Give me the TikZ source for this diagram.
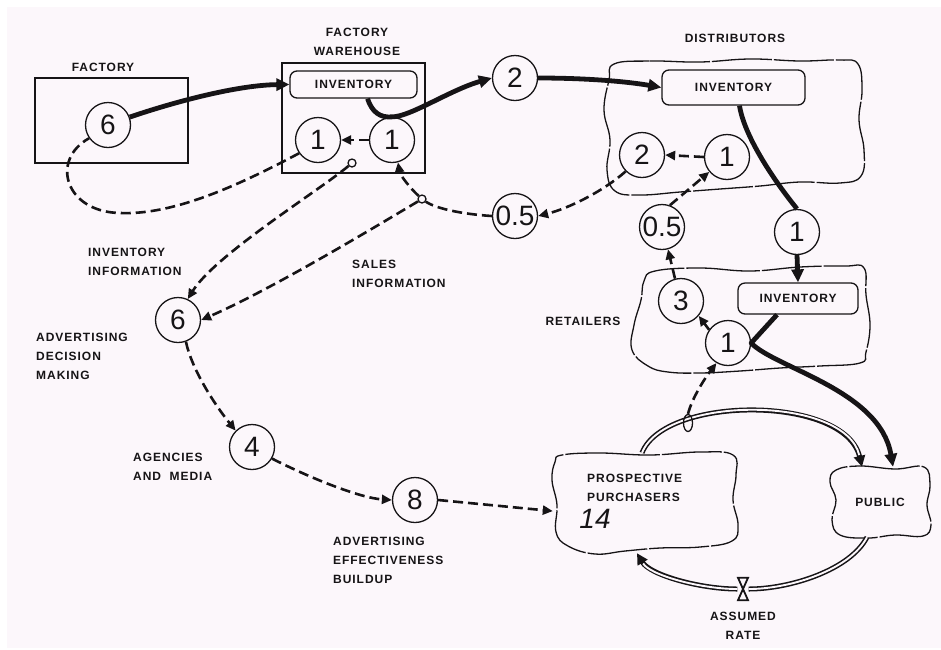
\documentclass[tikz,border=0pt]{standalone}
\usepackage{fontspec}
\setmainfont{Liberation Sans}
\newfontfamily\labfont[LetterSpace=8]{Liberation Sans}
\newfontfamily\digfont{Liberation Sans}
\usetikzlibrary{arrows.meta,shapes.geometric}
\definecolor{bg}{RGB}{252,247,251}
\definecolor{ink}{RGB}{22,20,22}
\tikzset{
  lab/.style={font=\labfont\bfseries\fontsize{12}{19}\selectfont, text=ink, inner sep=0pt, align=left},
  numc/.style={circle, draw=ink, line width=1.3pt, minimum size=45pt, inner sep=0pt, fill=bg, font=\digfont\fontsize{28}{28}\selectfont, text=ink},
  invbox/.style={draw=ink, line width=1.3pt, rounded corners=7pt, inner sep=0pt, font=\labfont\bfseries\fontsize{12}{14}\selectfont, text=ink},
  housebox/.style={draw=ink, line width=1.2pt, inner sep=0pt},
  area/.style={draw=none, inner sep=0pt},
  cloudline/.style={draw=ink, line width=1.3pt, dash pattern=on 60pt off 2pt},
  flowln/.style={draw=ink, line width=4.8pt},
  flowarrow/.style={flowln, -{Triangle[length=13pt,width=12pt]}},
  infoln/.style={draw=ink, line width=2.6pt, dash pattern=on 10pt off 5pt},
  infoarrow/.style={infoln, -{Triangle[length=10pt,width=9pt]}},
  pick/.style={circle, draw=ink, line width=1.3pt, fill=bg, minimum size=8pt, inner sep=0pt},
  twin/.style={draw=ink, line width=5pt},
  twingap/.style={draw=bg, line width=1.9pt},
}
\begin{document}
\begin{tikzpicture}[x=1pt,y=-1pt]
\useasboundingbox (0,0) rectangle (941,649);
\fill[white] (0,0) rectangle (941,649);
\fill[bg] (7,7) rectangle (941,648);

% ---------- areas ----------
\node[housebox, minimum width=153pt, minimum height=85pt] (fac) at (111.5,120.5) {};
\node[housebox, minimum width=143pt, minimum height=110pt] (wh) at (353.5,118) {};
\node[area, minimum width=258pt, minimum height=134pt] (dist) at (734,127) {};
\node[area, minimum width=240pt, minimum height=108pt] (ret) at (751,320) {};
\node[area, minimum width=184pt, minimum height=100pt] (pp) at (645,503) {};
\node[area, minimum width=98pt, minimum height=70pt, font=\labfont\bfseries\fontsize{12}{14}\selectfont, text=ink] (pub) at (880,502) {PUBLIC};

\draw[cloudline] plot[smooth cycle, tension=0.7] coordinates {
 (614,64) (650,61) (700,62) (750,59) (800,61) (840,60) (858,64) (862,90) (859,120) (864,150) (861,176)
 (840,183) (800,182) (760,186) (720,189) (680,192) (640,195) (615,191) (607,170) (610,140) (604,110) (609,80)};
\draw[cloudline] plot[smooth cycle, tension=0.7] coordinates {
 (655,271) (700,268) (750,271) (800,267) (845,266) (864,268) (866,295) (870,325) (866,352) (860,363)
 (820,366) (780,368) (740,371) (700,373) (668,372) (648,366) (632,350) (634,325) (641,300) (644,281)};
\draw[cloudline] plot[smooth cycle, tension=0.7] coordinates {
 (562,455) (600,453) (650,455) (700,452) (733,455) (736,475) (733,500) (738,525) (732,541) (700,547)
 (660,548) (625,551) (595,554) (568,546) (556,532) (557,505) (552,480) (555,462)};
\draw[cloudline] plot[smooth cycle, tension=0.7] coordinates {
 (836,470) (860,466) (895,469) (924,467) (930,485) (927,505) (931,525) (923,536) (895,535) (868,538)
 (840,535) (832,520) (836,500) (830,482)};

% ---------- inventories ----------
\node[invbox, minimum width=127pt, minimum height=27pt] (invW) at (353.5,84.5) {INVENTORY};
\node[invbox, minimum width=143pt, minimum height=35pt] (invD) at (733.5,87.5) {INVENTORY};
\node[invbox, minimum width=120pt, minimum height=31pt] (invR) at (798,298.5) {INVENTORY};

% ---------- labels ----------
\node[lab] (facL) at (103,67) {FACTORY};
\node[lab, align=center] (whL) at (357,42) {FACTORY\\WAREHOUSE};
\node[lab] (distL) at (735,38) {DISTRIBUTORS};
\node[lab] (retL) at (583,321) {RETAILERS};
\node[lab, anchor=west] (invInfo) at (88,262) {INVENTORY\\INFORMATION};
\node[lab, anchor=west] (salesInfo) at (352,274) {SALES\\INFORMATION};
\node[lab, anchor=west] (advL) at (36,356) {ADVERTISING\\DECISION\\MAKING};
\node[lab, anchor=west] (agL) at (133,467) {AGENCIES\\AND\ \ MEDIA};
\node[lab, anchor=west] (effL) at (333,560) {ADVERTISING\\EFFECTIVENESS\\BUILDUP};
\node[lab, anchor=west] (ppL) at (587,488) {PROSPECTIVE\\PURCHASERS};
\node[font=\digfont\itshape\fontsize{28}{28}\selectfont, text=ink, inner sep=0pt] (num14) at (595,519) {14};
\node[lab, align=center] (rateL) at (743,626) {ASSUMED\\RATE};

% ---------- circles ----------
\node[numc] (c6f) at (108,125) {6};
\node[numc] (c1a) at (318,140) {1};
\node[numc] (c1b) at (392,140) {1};
\node[numc] (c2) at (515,78) {2};
\node[numc] (c2d) at (642,155) {2};
\node[numc] (c1d) at (727,157) {1};
\node[numc] (c05a) at (515,216) {0.5};
\node[numc] (c05b) at (662,227) {0.5};
\node[numc] (c1m) at (797,232) {1};
\node[numc] (c3) at (681,301) {3};
\node[numc] (c1r) at (728,343) {1};
\node[numc] (c6a) at (178,320) {6};
\node[numc] (c4) at (252,447) {4};
\node[numc] (c8) at (415,500) {8};

\node[pick] (pick1) at (352,163) {};
\node[pick] (pickS) at (422,199) {};
\node[area, minimum width=11pt, minimum height=22pt] (valve) at (743,589) {};

% ---------- material flows ----------
\draw[flowarrow] (c6f.20) .. controls (180,100) and (240,85) .. (invW.west);
\draw[flowarrow] ([xshift=14pt]invW.south) .. controls (372,112) and (380,118) .. (c1b.north)
   .. controls (410,117) and (450,90) .. (c2.west);
\draw[flowarrow] (c2.east) .. controls (590,78) and (630,82) .. (invD.west);
\draw[flowln] ([xshift=6pt]invD.south) .. controls (744,135) and (772,178) .. (c1m.north);
\draw[flowarrow] (c1m.south) -- (invR.north);
\draw[flowarrow, line join=round] ([xshift=-21pt]invR.south) -- (c1r.east)
   .. controls (775,368) and (880,390) .. ([xshift=13pt]pub.north);

% ---------- people flows (double lines) ----------
\draw[twin, -{Triangle[length=11pt,width=11pt]}] ([xshift=-3pt]pp.north) .. controls (665,395) and (845,395) .. ([xshift=-18pt]pub.north);
\draw[twingap, shorten >=12pt] ([xshift=-3pt]pp.north) .. controls (665,395) and (845,395) .. ([xshift=-18pt]pub.north);
\draw[twin] ([xshift=-13pt]pub.south) .. controls (850,570) and (790,589) .. (valve.east);
\draw[twingap] ([xshift=-13pt]pub.south) .. controls (850,570) and (790,589) .. (valve.east);
\draw[twin, -{Triangle[length=11pt,width=11pt]}] (valve.west) .. controls (700,589) and (650,575) .. ([xshift=-8pt]pp.south);
\draw[twingap, shorten >=12pt] (valve.west) .. controls (700,589) and (650,575) .. ([xshift=-8pt]pp.south);
\draw[draw=ink, fill=bg, line width=1.8pt, line join=miter]
  ([xshift=5pt]valve.north) -- ([xshift=-5pt]valve.north) -- ([xshift=5pt]valve.south) -- ([xshift=-5pt]valve.south) -- cycle;
\node[ellipse, draw=ink, line width=1.3pt, minimum width=9pt, minimum height=17pt, inner sep=0pt] (pick2) at (688,423) {};

% ---------- information flows ----------
\draw[infoarrow] (c1b.west) -- (c1a.east);
\draw[infoln] (c1a.215) .. controls (230,190) and (170,215) .. (120,213)
   .. controls (65,212) and (50,160) .. (c6f.215);
\draw[infoarrow] (pick1) .. controls (320,190) and (215,255) .. (c6a.65);
\draw[infoln] (c05a.west) .. controls (460,214) and (435,208) .. (pickS);
\draw[infoarrow] (pickS) .. controls (410,188) and (400,175) .. (c1b.285);
\draw[infoarrow] (pickS) .. controls (370,230) and (270,290) .. (c6a.east);
\draw[infoarrow] (c1d.west) -- (c2d.east);
\draw[infoarrow] (c2d.225) .. controls (605,190) and (570,208) .. (c05a.east);
\draw[infoarrow] (c05b.70) -- (c1d.220);
\draw[infoarrow] (c3.105) -- (c05b.285);
\draw[infoarrow] (c1r.145) -- (c3.320);
\draw[infoarrow] (pick2.north) .. controls (692,398) and (705,378) .. (c1r.240);
\draw[infoarrow] (c6a.290) .. controls (192,370) and (215,405) .. (c4.135);
\draw[infoarrow] (c4.330) .. controls (310,478) and (360,498) .. (c8.west);
\draw[infoarrow] (c8.east) -- (pp.185);
\end{tikzpicture}
\end{document}
